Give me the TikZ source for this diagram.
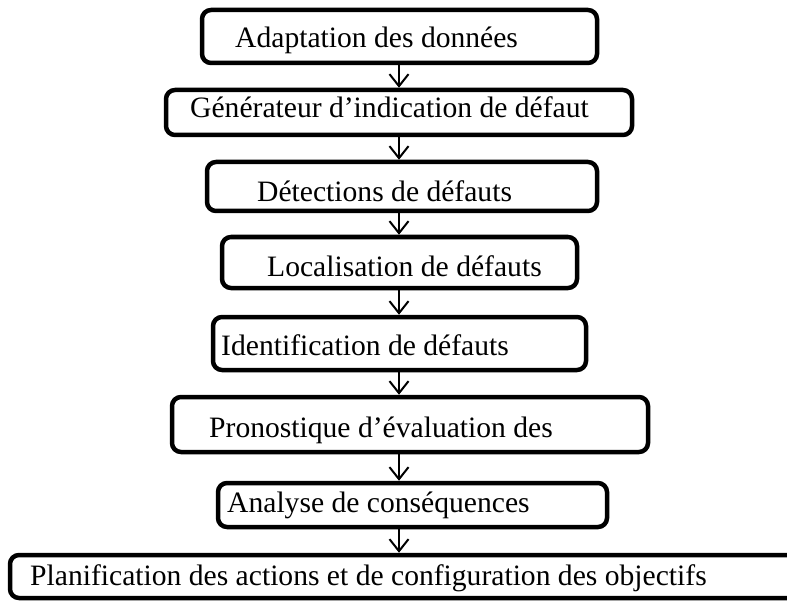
\documentclass[tikz,border=0pt]{standalone}
\usepackage{fontspec}
\setmainfont{Liberation Serif}
\usetikzlibrary{arrows.meta}
\tikzset{
  box/.style={draw=black, line width=4.5pt, rounded corners=9pt, inner sep=0pt, fill=white},
  lbl/.style={anchor=base west, inner sep=0pt, font=\fontsize{29.6}{34}\selectfont},
  flow/.style={line width=2pt, -{Straight Barb[length=12pt,width=19pt,line width=2pt]}}
}
\begin{document}
\begin{tikzpicture}[x=1pt,y=-1pt]
\clip (0,0) rectangle (787,604);
\fill[white] (0,0) rectangle (787,604);
% boxes
\node[box, minimum width=395pt, minimum height=53pt] (b1) at (399.5,36.5) {};
\node[box, minimum width=466pt, minimum height=45pt] (b2) at (399,112.5) {};
\node[box, minimum width=390pt, minimum height=49pt] (b3) at (402,186.5) {};
\node[box, minimum width=355pt, minimum height=51pt] (b4) at (399.5,262.5) {};
\node[box, minimum width=373pt, minimum height=53pt] (b5) at (399.5,343.5) {};
\node[box, minimum width=476pt, minimum height=55pt] (b6) at (410,424.5) {};
\node[box, minimum width=389pt, minimum height=44pt] (b7) at (412.5,505) {};
\node[box, minimum width=800pt, minimum height=43pt] (b8) at (410,576.5) {};
% labels
\node[lbl] (t1) at (235,48) {Adaptation des données};
\node[lbl] (t2) at (190,118) {Générateur d’indication de défaut};
\node[lbl] (t3) at (257,202) {Détections de défauts};
\node[lbl] (t4) at (267,276) {Localisation de défauts};
\node[lbl] (t5) at (221,355) {Identification de défauts};
\node[lbl] (t6) at (209,437) {Pronostique d’évaluation des};
\node[lbl] (t7) at (227,512) {Analyse de conséquences};
\node[lbl] (t8) at (30,585) {Planification des actions et de configuration des objectifs};
% connectors
\coordinate (c1) at (b1.south -| 399,0);
\coordinate (c2) at (b2.north -| 399,0);
\coordinate (c3) at (b2.south -| 399,0);
\coordinate (c4) at (b3.north -| 399,0);
\coordinate (c5) at (b3.south -| 399,0);
\coordinate (c6) at (b4.north -| 399,0);
\coordinate (c7) at (b4.south -| 399,0);
\coordinate (c8) at (b5.north -| 399,0);
\coordinate (c9) at (b5.south -| 399,0);
\coordinate (c10) at (b6.north -| 399,0);
\coordinate (c11) at (b6.south -| 399,0);
\coordinate (c12) at (b7.north -| 399,0);
\coordinate (c13) at (b7.south -| 399,0);
\coordinate (c14) at (b8.north -| 399,0);
\draw[flow] (c1) -- (c2);
\draw[flow] (c3) -- (c4);
\draw[flow] (c5) -- (c6);
\draw[flow] (c7) -- (c8);
\draw[flow] (c9) -- (c10);
\draw[flow] (c11) -- (c12);
\draw[flow] (c13) -- (c14);
\end{tikzpicture}
\end{document}
